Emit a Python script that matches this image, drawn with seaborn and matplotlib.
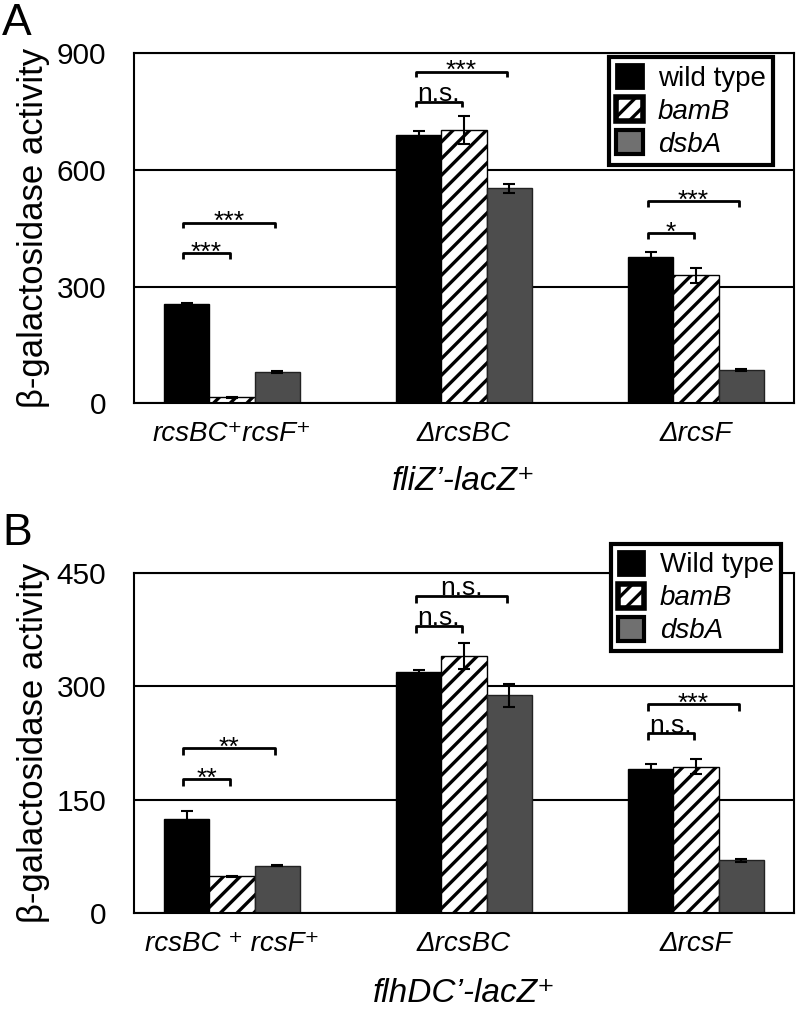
import pandas as pd
import matplotlib
matplotlib.use('Agg')
import matplotlib.pyplot as plt
from matplotlib.patches import Patch
import seaborn as sns

# data
strains_a = ['rcsBC\u207arcsF\u207a', '\u0394rcsBC', '\u0394rcsF']
strains_b = ['rcsBC \u207a rcsF\u207a', '\u0394rcsBC', '\u0394rcsF']
genotypes = ['wt', 'bamB', 'dsbA']

fliz_wt = [255, 690, 377]
fliz_bamb = [15, 703, 329]
fliz_dsba = [80, 553, 86]
fliz_wt_err = [3, 11, 13]
fliz_bamb_err = [2, 37, 20]
fliz_dsba_err = [3, 12, 3]

flhdc_wt = [125, 319, 191]
flhdc_bamb = [49, 340, 194]
flhdc_dsba = [63, 288, 70]
flhdc_wt_err = [10, 3, 6]
flhdc_bamb_err = [1, 17, 10]
flhdc_dsba_err = [1, 15, 2]

# significance brackets: (group, other bar, height, label)
fliz_sig = [(0, 1, 386, '***'), (0, 2, 465, '***'),
            (1, 1, 776, 'n.s.'), (1, 2, 853, '***'),
            (2, 1, 437, '*'), (2, 2, 520, '***')]
flhdc_sig = [(0, 1, 177, '**'), (0, 2, 218, '**'),
             (1, 1, 380, 'n.s.'), (1, 2, 419, 'n.s.'),
             (2, 1, 238, 'n.s.'), (2, 2, 276, '***')]

sns.set_style('white')
plt.rcParams['font.family'] = ['Liberation Sans', 'DejaVu Sans']
plt.rcParams['text.color'] = 'black'
plt.rcParams['axes.labelcolor'] = 'black'
plt.rcParams['xtick.color'] = 'black'
plt.rcParams['ytick.color'] = 'black'
plt.rcParams['hatch.linewidth'] = 2.4
plt.rcParams['hatch.color'] = 'black'

bar_colors = {'wt': '#000000', 'bamB': '#ffffff', 'dsbA': '#4d4d4d'}


def make_df(strains, wt, bamb, dsba):
    rows = []
    for i, s in enumerate(strains):
        rows.append((s, 'wt', wt[i]))
        rows.append((s, 'bamB', bamb[i]))
        rows.append((s, 'dsbA', dsba[i]))
    return pd.DataFrame(rows, columns=['strain', 'genotype', 'value'])


def draw_panel(ax, df, errs, sig, ymax, tick_step, tick_len):
    sns.barplot(data=df, x='strain', y='value', hue='genotype',
                hue_order=genotypes, palette=bar_colors, saturation=1,
                width=0.585, edgecolor='black', linewidth=1,
                errorbar=None, legend=False, ax=ax)
    # hatch the bamB bars
    for bar in ax.containers[1]:
        bar.set_hatch('//')
        bar.set_edgecolor('black')
    for bar in ax.containers[2]:
        bar.set_edgecolor('#222222')

    # error bars on top of each bar
    centers = []
    for cont, err in zip(ax.containers, errs):
        xs = [b.get_x() + b.get_width() / 2 for b in cont]
        ys = [b.get_height() for b in cont]
        centers.append(xs)
        ax.errorbar(xs, ys, yerr=err, fmt='none', ecolor='black',
                    elinewidth=1.5, capsize=4.5, capthick=1.5, zorder=5)

    # brackets
    for g, j, y, lab in sig:
        x0 = centers[0][g] - 3 / 220
        x1 = centers[j][g] - 2 / 220
        ax.plot([x0, x0, x1, x1], [y - tick_len, y, y, y - tick_len],
                color='black', lw=2, solid_capstyle='butt', zorder=6)
        dy = 0.5 if lab == 'n.s.' else -4.5
        ax.annotate(lab, xy=((x0 + x1) / 2, y), xytext=(0, dy),
                    textcoords='offset points', ha='center', va='baseline',
                    fontsize=19)

    ax.set_ylim(0, ymax)
    ax.set_yticks(range(0, ymax + 1, tick_step))
    ax.yaxis.grid(True, color='black', lw=1.5)
    ax.set_axisbelow(True)
    for sp in ax.spines.values():
        sp.set_color('black')
        sp.set_linewidth(1.5)
    ax.tick_params(axis='y', length=0, pad=20, labelsize=21.5)
    ax.tick_params(axis='x', length=0, pad=13, labelsize=20)
    for t in ax.get_xticklabels():
        t.set_fontstyle('italic')
    ax.set_ylabel('\u03b2-galactosidase activity', fontsize=25)
    ax.yaxis.set_label_coords(-0.128, 0.5)


def add_legend(ax, first, anchor):
    handles = [Patch(facecolor='black', edgecolor='black', lw=2),
               Patch(facecolor='white', edgecolor='black', hatch='//', lw=4),
               Patch(facecolor='#707070', edgecolor='black', lw=3)]
    leg = ax.legend(handles, [first, 'bamB', 'dsbA'], loc='upper right',
                    bbox_to_anchor=anchor, borderaxespad=0, fontsize=20,
                    handlelength=0.95, handleheight=0.95, labelspacing=0.2,
                    handletextpad=0.55, borderpad=0.25, fancybox=False,
                    framealpha=1, edgecolor='black')
    leg.get_frame().set_linewidth(3)
    leg.set_zorder(10)
    for t in leg.get_texts()[1:]:
        t.set_fontstyle('italic')


fig = plt.figure(figsize=(8, 10.18), dpi=100)
ax_a = fig.add_axes([0.1675, 0.6038, 0.825, 0.3438])
ax_b = fig.add_axes([0.1675, 0.1028, 0.825, 0.3346])

df_a = make_df(strains_a, fliz_wt, fliz_bamb, fliz_dsba)
df_b = make_df(strains_b, flhdc_wt, flhdc_bamb, flhdc_dsba)

draw_panel(ax_a, df_a, [fliz_wt_err, fliz_bamb_err, fliz_dsba_err],
           fliz_sig, 900, 300, 15)
draw_panel(ax_b, df_b, [flhdc_wt_err, flhdc_bamb_err, flhdc_dsba_err],
           flhdc_sig, 450, 150, 9)

ax_a.set_xlabel('fliZ\u2019-lacZ\u207a', fontsize=24, fontstyle='italic')
ax_b.set_xlabel('flhDC\u2019-lacZ\u207a', fontsize=24, fontstyle='italic')
ax_a.xaxis.set_label_coords(0.5, -0.18)
ax_b.xaxis.set_label_coords(0.5, -0.19)

add_legend(ax_a, 'wild type', (0.968, 0.989))
add_legend(ax_b, 'Wild type', (0.980, 1.085))

# panel letters
fig.text(2 / 800, 1 - 35 / 1018, 'A', fontsize=32, va='baseline')
fig.text(2 / 800, 1 - 545 / 1018, 'B', fontsize=32, va='baseline')

plt.savefig('out.png', dpi=100)
